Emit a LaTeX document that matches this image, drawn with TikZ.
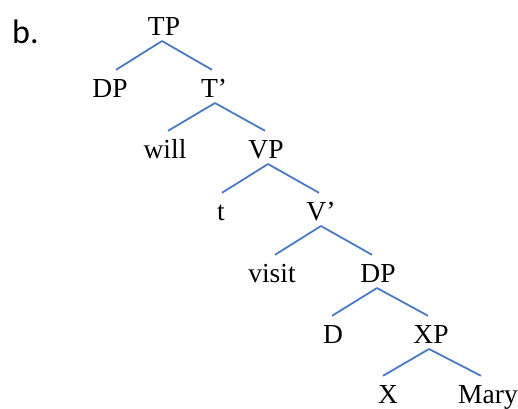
\documentclass[tikz,border=0pt]{standalone}
\usepackage{fontspec}
\setmainfont{Liberation Serif}
\newfontfamily\labelfont{Carlito}
\begin{document}
\begin{tikzpicture}[x=1pt,y=-1pt,
  lab/.style={font=\fontsize{27.5}{27.5}\selectfont, inner sep=0pt, text height=18pt, text depth=0pt, anchor=base},
  br/.style={draw={rgb,255:red,74;green,122;blue,196}, line width=1.8pt}]
\useasboundingbox (0,0) rectangle (518,408);
\node[font=\labelfont\fontsize{34}{34}\selectfont, inner sep=0pt, anchor=base west] (b) at (12,43) {b.};
\node[lab] (TP) at (164,35) {TP};
\node[lab] (DP1) at (110,97) {DP};
\node[lab] (T1) at (214,97) {T’};
\node[lab] (will) at (165,158) {will};
\node[lab] (VP) at (266,158) {VP};
\node[lab] (t) at (221,220) {t};
\node[lab] (V1) at (321,220) {V’};
\node[lab] (visit) at (272,282) {visit};
\node[lab] (DP2) at (378,282) {DP};
\node[lab] (D) at (333,343) {D};
\node[lab] (XP) at (431,343) {XP};
\node[lab] (X) at (388,403) {X};
\node[lab] (Mary) at (488,403) {Mary};
\foreach \p/\c/\dx/\ex in {TP/DP1/-2/6, TP/T1/-2/-2, T1/will/1/3, T1/VP/1/-1, VP/t/2/1, VP/V1/2/-2, V1/visit/0/3, V1/DP2/0/-6, DP2/D/-1/-1, DP2/XP/-1/-3, XP/X/-2/-5, XP/Mary/-2/-7}
  \draw[br] ([shift={(\dx,6)}]\p.base) -- ([shift={(\ex,-9)}]\c.north);
\end{tikzpicture}
\end{document}
